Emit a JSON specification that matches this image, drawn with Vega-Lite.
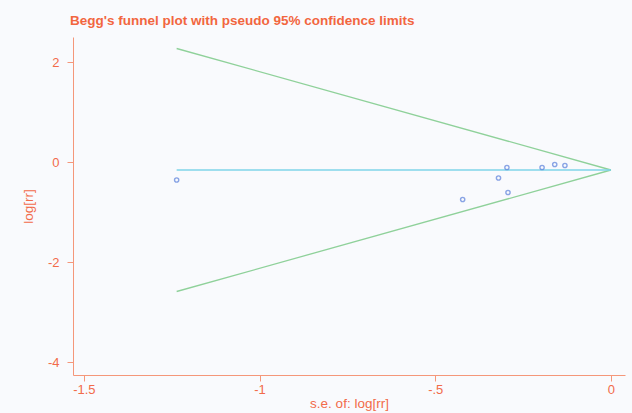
{
  "$schema": "https://vega.github.io/schema/vega-lite/v6.json",
  "autosize": {"type": "none"},
  "width": 552,
  "height": 338,
  "padding": {"left": 73, "top": 37, "right": 7, "bottom": 38},
  "background": "#f9fafd",
  "title": {
    "text": "Begg's funnel plot with pseudo 95% confidence limits",
    "anchor": "start",
    "frame": "group",
    "font": "Liberation Sans",
    "fontSize": 13.5,
    "fontWeight": "bold",
    "color": "#f2663f",
    "offset": 10,
    "dx": -3
  },
  "config": {
    "view": {"stroke": null},
    "axis": {
      "grid": false,
      "domainColor": "#f5977a",
      "tickColor": "#f5977a",
      "labelColor": "#f26b4a",
      "titleColor": "#f26b4a",
      "labelFont": "Liberation Sans",
      "titleFont": "Liberation Sans",
      "labelFontSize": 13,
      "titleFontSize": 13.5,
      "titleFontWeight": "normal",
      "tickSize": 6
    }
  },
  "datasets": {
    "studies": [
      {"se": -1.236, "logrr": -0.36},
      {"se": -0.422, "logrr": -0.75},
      {"se": -0.320, "logrr": -0.32},
      {"se": -0.296, "logrr": -0.11},
      {"se": -0.293, "logrr": -0.61},
      {"se": -0.196, "logrr": -0.11},
      {"se": -0.160, "logrr": -0.05},
      {"se": -0.131, "logrr": -0.07}
    ],
    "limits": [
      {"line": "upper", "se": -1.236, "logrr": 2.27},
      {"line": "upper", "se": 0, "logrr": -0.16},
      {"line": "lower", "se": -1.236, "logrr": -2.59},
      {"line": "lower", "se": 0, "logrr": -0.16}
    ],
    "pooled": [
      {"se": -1.236, "logrr": -0.16},
      {"se": 0, "logrr": -0.16}
    ]
  },
  "layer": [
    {
      "data": {"name": "limits"},
      "mark": {"type": "line", "color": "#8fd19a", "strokeWidth": 1.3},
      "encoding": {
        "x": {
          "field": "se", "type": "quantitative",
          "scale": {"domain": [-1.531, 0.04], "nice": false, "zero": false},
          "axis": {"values": [-1.5, -1, -0.5, 0], "labelExpr": "datum.value == 0 ? '0' : (datum.value == -1 ? '-1' : (datum.value == -1.5 ? '-1.5' : '-.5'))", "title": "s.e. of: log[rr]", "labelPadding": 2, "titlePadding": 0, "labelFlush": false}
        },
        "y": {
          "field": "logrr", "type": "quantitative",
          "scale": {"domain": [-4.26, 2.5], "nice": false, "zero": false},
          "axis": {"values": [-4, -2, 0, 2], "labelExpr": "datum.value < 0 ? '-' + toString(-datum.value) : toString(datum.value)", "title": "log[rr]", "labelPadding": 8, "titlePadding": 12, "labelFlush": false}
        },
        "detail": {"field": "line"}
      }
    },
    {
      "data": {"name": "pooled"},
      "mark": {"type": "line", "color": "#7fd4e8", "strokeWidth": 1.3},
      "encoding": {
        "x": {"field": "se", "type": "quantitative"},
        "y": {"field": "logrr", "type": "quantitative"}
      }
    },
    {
      "data": {"name": "studies"},
      "mark": {"type": "point", "shape": "circle", "filled": false, "color": "#5b80dc", "size": 18, "strokeWidth": 1.4},
      "encoding": {
        "x": {"field": "se", "type": "quantitative"},
        "y": {"field": "logrr", "type": "quantitative"}
      }
    }
  ]
}
